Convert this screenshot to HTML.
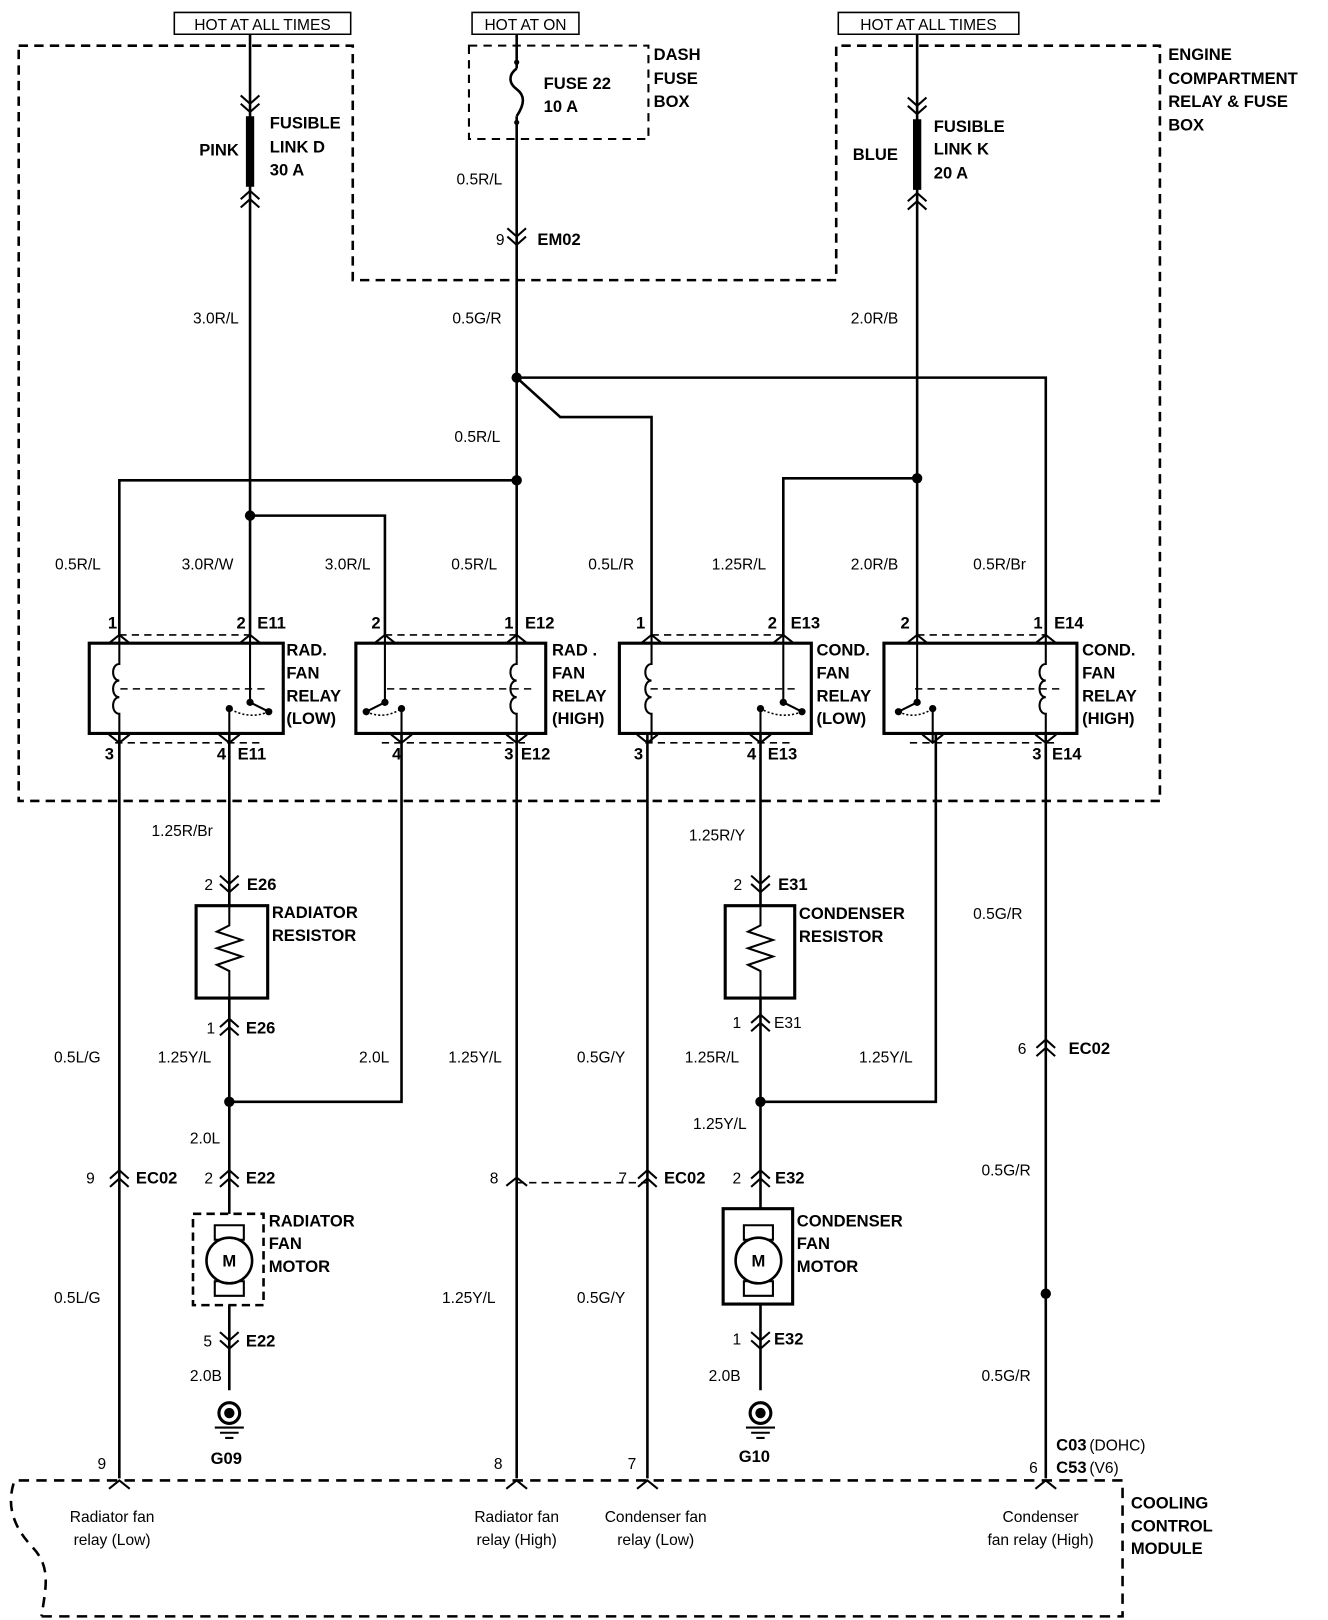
<!DOCTYPE html>
<html><head><meta charset="utf-8"><style>
html,body{margin:0;padding:0;background:#fff;}
svg{display:block;}
text{font-family:"Liberation Sans",Arial,sans-serif;fill:#000;}
.b{font-weight:bold;font-size:16px;}
.r{font-size:15px;}
</style></head><body>
<svg id="s" xmlns="http://www.w3.org/2000/svg" width="1328" height="1620" viewBox="0 0 1280 1561.5">
<g fill="none" stroke="#000" stroke-width="2.5">
<path d="M18,44 H340 V270 H806 V44 H1118 V772 H18 Z" stroke-dasharray="9,6"/>
<path d="M452,44 H625 V134 H452 Z" stroke-dasharray="8,6" stroke-width="2"/>
<path d="M40,1558 H1082 V1427 H14 C6,1450 12,1470 30,1490 C50,1510 44,1530 40,1558" stroke-dasharray="10,7"/>
</g>
<g id="w" fill="none" stroke="#000" stroke-width="2.5"></g>
<g id="t"></g>
</svg>
<script>
const S='http://www.w3.org/2000/svg';
const W=document.getElementById('w'),T=document.getElementById('t');
function el(p,tag,a){const e=document.createElementNS(S,tag);for(const k in a)e.setAttribute(k,a[k]);p.appendChild(e);return e;}
function P(d,ex){return el(W,'path',Object.assign({d:d},ex||{}));}
function tx(x,y,s,c,anc){const e=el(T,'text',{x:x,y:y,class:c||'r'});if(anc)e.setAttribute('text-anchor',anc);e.textContent=s;}
function dot(x,y,r){el(W,'circle',{cx:x,cy:y,r:r||5,fill:'#000',stroke:'none'});}
[[168,338,'HOT AT ALL TIMES'],[455,558,'HOT AT ON'],[808,982,'HOT AT ALL TIMES']].forEach(b=>{
 P(`M${b[0]},12 H${b[1]} V33 H${b[0]} Z`,{'stroke-width':1.5});tx((b[0]+b[1])/2,29,b[2],'r','middle');});
P('M241,33 V612');P('M241,497 H371 V612');
P('M498,33 V66 M498,112 V612');P('M498,66 c-8,6 -8,14 0,20 c8,6 8,14 0,26');dot(498,118,2.5);dot(498,60,2.5);
P('M498,364 H1008 V612');P('M498,364 L540,402 H628 V612');
P('M498,463 H115 V612');dot(498,364);dot(498,463);dot(241,497);
P('M884,33 V612');P('M884,461 H755 V612');dot(884,461);
P('M241,112 V180',{'stroke-width':8});P('M884,115 V183',{'stroke-width':8});
function dn(x,y){P(`M${x-9},${y-8} L${x},${y} L${x+9},${y-8} M${x-9},${y} L${x},${y+8} L${x+9},${y}`,{'stroke-width':2});}
function up(x,y){P(`M${x-9},${y+8} L${x},${y} L${x+9},${y+8} M${x-9},${y+16} L${x},${y+8} L${x+9},${y+16}`,{'stroke-width':2});}
function up1(x,y){P(`M${x-10},${y+8} L${x},${y} L${x+10},${y+8}`,{'stroke-width':2});}
function dn1(x,y){P(`M${x-10},${y-8} L${x},${y} L${x+10},${y-8}`,{'stroke-width':2});}
dn(241,100);up(241,184);dn(884,102);up(884,186);dn(498,228);
const R=[[86,273,115,241,'coilL'],[343,526,371,498,'coilR'],[597,782,628,755,'coilL'],[852,1038,884,1008,'coilR']];
R.forEach((r,i)=>{
 P(`M${r[0]},620 H${r[1]} V707 H${r[0]} Z`,{'stroke-width':3});
 P(`M${r[2]},612 H${r[3]} M${r[0]+30},664 H${r[1]-14} M${r[0]+25},716 H${r[1]-20}`,{'stroke-dasharray':'7,5','stroke-width':1.5});
 up1(r[2],612);up1(r[3],612);
 const coil=r[4]=='coilL'?r[2]:r[3], sw=r[4]=='coilL'?r[3]:r[2];
 P(`M${coil},612 V640 c-8,0 -8,16 0,16 c-8,0 -8,16 0,16 c-8,0 -8,16 0,16 V716`,{'stroke-width':2});
 const s=r[4]=='coilL'?1:-1;
 let p4=[221,387,733,899][i], p3=[115,498,624,1008][i];
 P(`M${sw},612 V677 L${sw+s*18},686 M${p4},716 V685`,{'stroke-width':2});
 dot(sw,677,3.5);dot(sw+s*18,686,3.5);dot(p4,683,3.5);
 P(`M${sw+s*18},686 Q${(sw+s*18+p4)/2},694 ${p4},683`,{'stroke-width':1.5,'stroke-dasharray':'2,2'});
 dn1(p3,716);dn1(p4,716);
});
P('M115,707 V1425');P('M221,707 V1340');P('M221,1062 H387 V707');P('M498,707 V1425');P('M624,707 V1425');
P('M733,707 V1340');P('M733,1062 H902 V707');P('M1008,707 V1425');dot(221,1062);dot(733,1062);dot(1008,1247);
P('M498,1140 H624',{'stroke-dasharray':'7,5','stroke-width':1.5});
[[189,258,221],[699,766,733]].forEach(r=>{
 P(`M${r[0]},873 H${r[1]} V962 H${r[0]} Z`,{'stroke-width':3,fill:'#fff'});
 P(`M${r[2]},873 V892 l-12,6 l24,8 l-24,8 l24,8 l-24,8 l12,6 V962`,{'stroke-width':2});
});
P('M186,1170 H254 V1258 H186 Z',{'stroke-dasharray':'8,5','stroke-width':2.5,fill:'#fff'});
P('M697,1165 H764 V1257 H697 Z',{'stroke-width':3,fill:'#fff'});
[[221,1215],[731,1215]].forEach(m=>{
 P(`M${m[0]-14},${m[1]-34} h28 v14 h-28 z M${m[0]-14},${m[1]+20} h28 v14 h-28 z`,{'stroke-width':2,fill:'#fff'});
 el(W,'circle',{cx:m[0],cy:m[1],r:22,fill:'#fff','stroke-width':2.5});
 tx(m[0],m[1]+6,'M','b','middle');
});
[221,733].forEach(x=>{el(W,'circle',{cx:x,cy:1362,r:10,'stroke-width':3});dot(x,1362,5);P(`M${x-14},1376 h28 M${x-9},1381 h18 M${x-4},1386 h8`,{'stroke-width':2});});
dn(221,852);up(221,982);up(221,1128);dn(221,1292);
dn(733,852);up(733,978);up(733,1128);dn(733,1292);
up(115,1128);up1(498,1135);up(624,1128);up(1008,1002);
[115,498,624,1008].forEach(x=>up1(x,1427));
const L=[
[192,150,'PINK','b'],[260,124,'FUSIBLE','b'],[260,147,'LINK D','b'],[260,169,'30 A','b'],
[524,86,'FUSE 22','b'],[524,108,'10 A','b'],[630,58,'DASH','b'],[630,81,'FUSE','b'],[630,103,'BOX','b'],
[1126,58,'ENGINE','b'],[1126,81,'COMPARTMENT','b'],[1126,103,'RELAY & FUSE','b'],[1126,126,'BOX','b'],
[822,154,'BLUE','b'],[900,127,'FUSIBLE','b'],[900,149,'LINK K','b'],[900,172,'20 A','b'],
[440,178,'0.5R/L'],[478,236,'9'],[518,236,'EM02','b'],[186,312,'3.0R/L'],[436,312,'0.5G/R'],[820,312,'2.0R/B'],[438,426,'0.5R/L'],
[53,549,'0.5R/L'],[175,549,'3.0R/W'],[313,549,'3.0R/L'],[435,549,'0.5R/L'],[567,549,'0.5L/R'],[686,549,'1.25R/L'],[820,549,'2.0R/B'],[938,549,'0.5R/Br'],
[104,606,'1','b'],[228,606,'2','b'],[248,606,'E11','b'],[358,606,'2','b'],[486,606,'1','b'],[506,606,'E12','b'],[613,606,'1','b'],[740,606,'2','b'],[762,606,'E13','b'],[868,606,'2','b'],[996,606,'1','b'],[1016,606,'E14','b'],
[276,632,'RAD.','b'],[276,654,'FAN','b'],[276,676,'RELAY','b'],[276,698,'(LOW)','b'],
[532,632,'RAD .','b'],[532,654,'FAN','b'],[532,676,'RELAY','b'],[532,698,'(HIGH)','b'],
[787,632,'COND.','b'],[787,654,'FAN','b'],[787,676,'RELAY','b'],[787,698,'(LOW)','b'],
[1043,632,'COND.','b'],[1043,654,'FAN','b'],[1043,676,'RELAY','b'],[1043,698,'(HIGH)','b'],
[101,732,'3','b'],[209,732,'4','b'],[229,732,'E11','b'],[378,732,'4','b'],[486,732,'3','b'],[502,732,'E12','b'],[611,732,'3','b'],[720,732,'4','b'],[740,732,'E13','b'],[995,732,'3','b'],[1014,732,'E14','b'],
[146,806,'1.25R/Br'],[664,810,'1.25R/Y'],[938,886,'0.5G/R'],
[197,858,'2'],[238,858,'E26','b'],[262,885,'RADIATOR','b'],[262,907,'RESISTOR','b'],[199,996,'1'],[237,996,'E26','b'],
[707,858,'2'],[750,858,'E31','b'],[770,886,'CONDENSER','b'],[770,908,'RESISTOR','b'],[706,991,'1'],[746,991,'E31'],
[981,1016,'6'],[1030,1016,'EC02','b'],
[52,1024,'0.5L/G'],[152,1024,'1.25Y/L'],[346,1024,'2.0L'],[432,1024,'1.25Y/L'],[556,1024,'0.5G/Y'],[660,1024,'1.25R/L'],[828,1024,'1.25Y/L'],
[183,1102,'2.0L'],[668,1088,'1.25Y/L'],
[83,1141,'9'],[131,1141,'EC02','b'],[197,1141,'2'],[237,1141,'E22','b'],[472,1141,'8'],[596,1141,'7'],[640,1141,'EC02','b'],[706,1141,'2'],[747,1141,'E32','b'],[946,1133,'0.5G/R'],
[259,1182,'RADIATOR','b'],[259,1204,'FAN','b'],[259,1226,'MOTOR','b'],[768,1182,'CONDENSER','b'],[768,1204,'FAN','b'],[768,1226,'MOTOR','b'],
[52,1256,'0.5L/G'],[426,1256,'1.25Y/L'],[556,1256,'0.5G/Y'],
[196,1298,'5'],[237,1298,'E22','b'],[706,1296,'1'],[746,1296,'E32','b'],
[183,1331,'2.0B'],[683,1331,'2.0B'],[946,1331,'0.5G/R'],
[203,1411,'G09','b'],[712,1409,'G10','b'],
[1018,1398,'C03','b'],[1018,1420,'C53','b'],[94,1416,'9'],[476,1416,'8'],[605,1416,'7'],[992,1420,'6'],
[1090,1454,'COOLING','b'],[1090,1476,'CONTROL','b'],[1090,1498,'MODULE','b']
];
L.forEach(l=>tx(l[0],l[1],l[2],l[3]));
tx(1050,1398,'(DOHC)');tx(1050,1420,'(V6)');
[[108,'Radiator fan','relay (Low)'],[498,'Radiator fan','relay (High)'],[632,'Condenser fan','relay (Low)'],[1003,'Condenser','fan relay (High)']].forEach(c=>{tx(c[0],1467,c[1],'r','middle');tx(c[0],1489,c[2],'r','middle');});
</script>
</body></html>
